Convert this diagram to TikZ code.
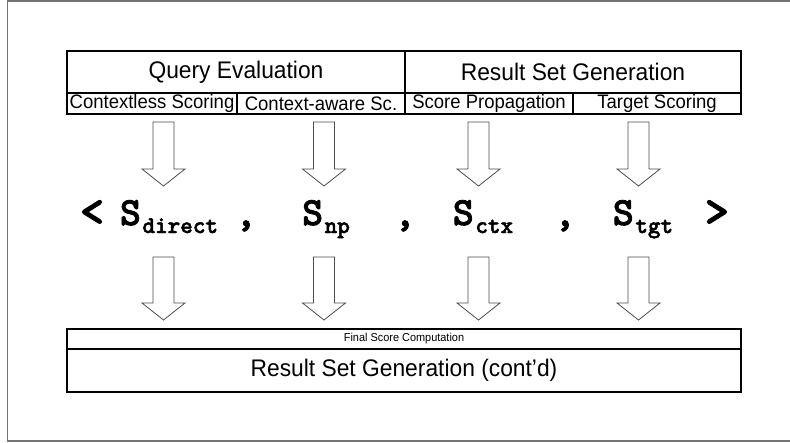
\documentclass[tikz,border=0pt]{standalone}
\usepackage{fontspec}
\setmainfont{Liberation Sans}[FakeStretch=0.95]
\newfontfamily\scorefont{lmmonolt10-bold}[Extension=.otf, FakeBold=2]
\usetikzlibrary{calc}

\tikzset{
  frame/.style={draw=black!55, line width=1.8pt},
  cell/.style={draw=black, line width=1.2pt, inner sep=0pt, outer sep=0pt, align=center},
  bigtext/.style={font=\fontsize{24}{26}\selectfont},
  midtext/.style={font=\fontsize{19.5}{21}\selectfont},
  smalltext/.style={font=\fontsize{11.5}{12.5}\selectfont},
  fatarrow/.style={draw=black!70, line width=0.8pt, fill=white, line join=miter},
  score/.style={anchor=base, inner sep=0pt, outer sep=0pt, font=\scorefont\fontsize{40}{40}\selectfont},
  bracket/.style={score, font=\scorefont\fontsize{46}{46}\selectfont},
}
% subscript of a score name, set lower and smaller
\newcommand\scoresub[1]{\hspace{1.5pt}\raisebox{-8pt}{\fontsize{24}{24}\selectfont #1}}
% hollow downward block arrow from a top point to a tip point
\newcommand\fatdown[2]{%
  \draw[fatarrow] ($(#1)+(-10.5,0)$) -- ($(#2)+(-10.5,-17)$) -- ($(#2)+(-21.5,-17)$)
    -- (#2) -- ($(#2)+(21.5,-17)$) -- ($(#2)+(10.5,-17)$) -- ($(#1)+(10.5,0)$) -- cycle;}

\begin{document}
\begin{tikzpicture}[x=1pt, y=-1pt]
  \useasboundingbox (0,0) rectangle (790,442);
  \clip (0,0) rectangle (790,442);
  \draw[frame] (7.5,1) rectangle (800,441);

  % upper phase table
  \node[cell, bigtext, minimum width=338pt, minimum height=42pt] (qe)  at (236,72) {Query Evaluation};
  \node[cell, bigtext, minimum width=336pt, minimum height=42pt] (rsg) at (573,72) {Result Set Generation};
  \node[cell, midtext, minimum width=170pt, minimum height=21pt] (c1) at (152,103.5) {Contextless Scoring};
  \node[cell, midtext, minimum width=168pt, minimum height=21pt] (c2) at (321,103.5) {Context-aware Sc.};
  \node[cell, midtext, minimum width=168pt, minimum height=21pt] (c3) at (489,103.5) {Score Propagation};
  \node[cell, midtext, minimum width=168pt, minimum height=21pt] (c4) at (657,103.5) {Target Scoring};

  % lower table
  \node[cell, smalltext, minimum width=674pt, minimum height=20pt] (fsc)  at (404,339) {Final Score Computation};
  \node[cell, bigtext,   minimum width=674pt, minimum height=43pt] (rsg2) at (404,370.5) {Result Set Generation (cont'd)};

  % arrow columns
  \foreach \i/\x in {1/163.5, 2/324, 3/478.5, 4/638.5} {
    \coordinate (u\i) at (\x,122);
    \coordinate (ut\i) at (\x,186);
    \coordinate (l\i) at (\x,257);
    \coordinate (lt\i) at (\x,320);
  }

  % score vector
  \node[bracket] (lt)  at (92,226) {<};
  \node[score] (s1)  at (169,225) {S\scoresub{direct}};
  \node[score] (cm1) at (246,226) {,};
  \node[score] (s2)  at (326,225) {S\scoresub{np}};
  \node[score] (cm2) at (405,226) {,};
  \node[score] (s3)  at (483,225) {S\scoresub{ctx}};
  \node[score] (cm3) at (565,226) {,};
  \node[score] (s4)  at (643,225) {S\scoresub{tgt}};
  \node[bracket] (gt)  at (717,226) {>};

  % arrows into and out of the score vector
  \foreach \i in {1,...,4} {
    \fatdown{u\i}{ut\i}
    \fatdown{l\i}{lt\i}
  }
\end{tikzpicture}
\end{document}
